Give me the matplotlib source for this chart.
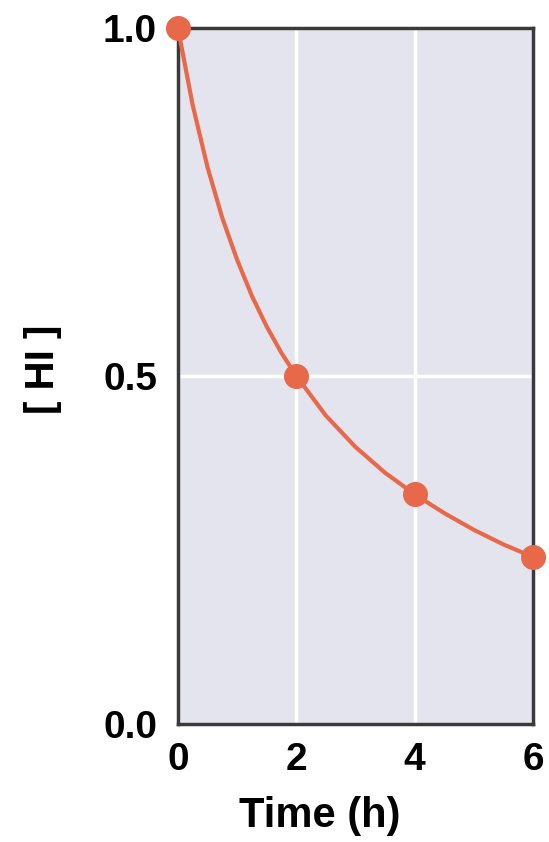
import matplotlib
matplotlib.use("Agg")
import matplotlib.pyplot as plt

plt.rcParams['font.family'] = ['Liberation Sans', 'DejaVu Sans']

# measured points
t_pts = [0, 2, 4, 6]
hi_pts = [1.0, 0.5, 0.33, 0.24]

# curve values
t_curve = [0, 0.25, 0.5, 0.75, 1, 1.25, 1.5, 1.75, 2, 2.5, 3, 3.5, 4, 4.5, 5, 5.5, 6]
hi_curve = [1.0, 0.889, 0.8, 0.727, 0.667, 0.615, 0.571, 0.533, 0.5,
            0.443, 0.398, 0.361, 0.33, 0.303, 0.279, 0.258, 0.24]

col = '#e8684a'
fs = 28

fig = plt.figure(figsize=(5.49, 8.42), dpi=100)
ax = fig.add_axes([0.324, 0.140, 0.647, 0.827])
ax.set_facecolor('#e4e4ee')

ax.plot(t_curve, hi_curve, color=col, lw=3, clip_on=False, zorder=3, solid_capstyle='round')
ax.plot(t_pts, hi_pts, 'o', color=col, ms=17, clip_on=False, zorder=4)

ax.set_xlim(0, 6)
ax.set_ylim(0, 1)
ax.set_xticks([0, 2, 4, 6])
ax.set_yticks([0, 0.5, 1.0])
ax.set_yticklabels(['0.0', '0.5', '1.0'])
ax.grid(True, color='white', lw=2.5)
ax.set_axisbelow(True)
ax.tick_params(length=0, labelsize=fs)
ax.tick_params(axis='x', pad=13)
ax.tick_params(axis='y', pad=15)
for lab in ax.get_xticklabels() + ax.get_yticklabels():
    lab.set_fontweight('bold')
for s in ax.spines.values():
    s.set_color('#3a3a3a')
    s.set_linewidth(2.5)

ax.set_xlabel('Time (h)', fontsize=30, fontweight='bold')
ax.xaxis.set_label_coords(0.40, -0.103)
ax.set_ylabel('[ HI ]', fontsize=29, fontweight='bold')
ax.yaxis.set_label_coords(-0.327, 0.509)

fig.savefig('out.png', dpi=100)
